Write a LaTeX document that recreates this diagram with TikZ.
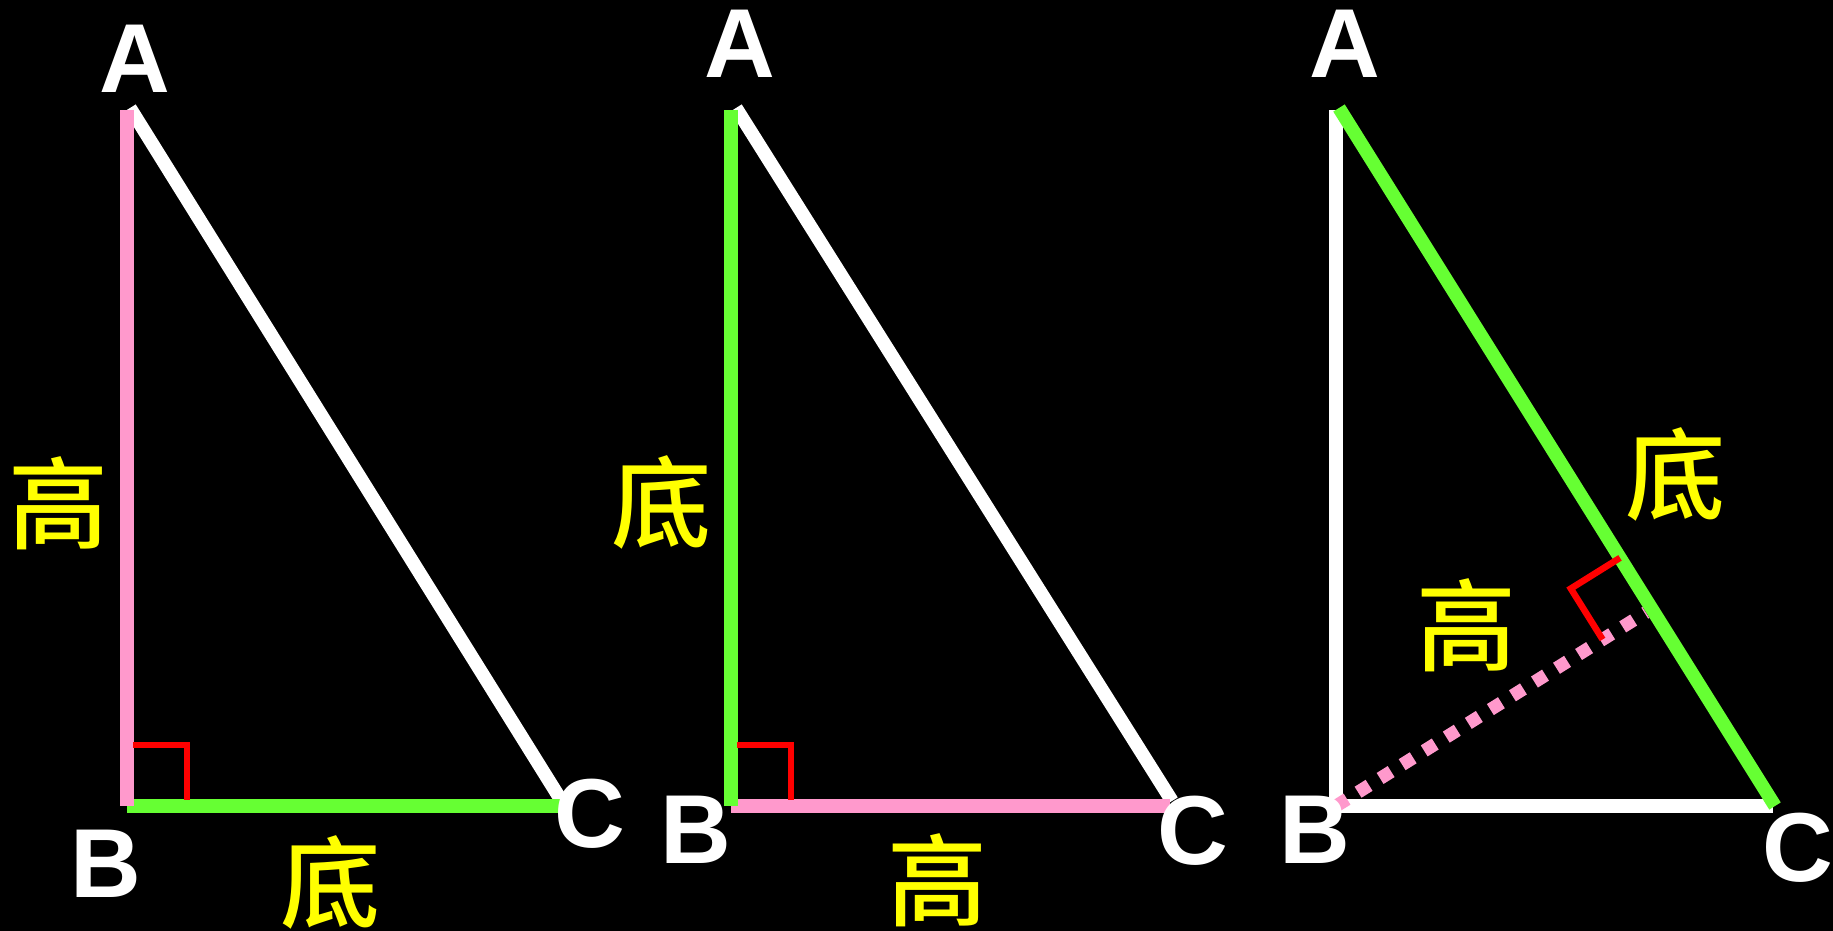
\documentclass[tikz,border=0pt]{standalone}
\usepackage{fontspec}
\setmainfont{Liberation Sans}
\newfontfamily\cjk{Noto Sans CJK SC}[UprightFont={* Medium}]
\usetikzlibrary{calc}
\definecolor{pk}{HTML}{FF99CC}
\definecolor{gr}{HTML}{66FF33}
\definecolor{rd}{HTML}{FF0000}
\definecolor{yl}{HTML}{FFFF00}
\tikzset{
  side/.style={line width=13.5pt},
  rmark/.style={draw=rd, line width=6.5pt},
  vlab/.style={text=white, inner sep=0pt, font=\fontsize{98}{98}\selectfont\bfseries},
  clab/.style={text=yl, inner sep=0pt, font=\fontsize{100}{100}\selectfont\cjk},
  dotline/.style={draw=pk, line width=13pt, dash pattern=on 13pt off 13pt}
}
\begin{document}
\begin{tikzpicture}[x=1pt,y=-1pt]
\fill[black] (0,0) rectangle (1833,931);
\useasboundingbox (0,0) rectangle (1833,931);
% ---------- triangle 1
\coordinate (A1) at (127,110);
\coordinate (B1) at (127,806);
\coordinate (C1) at (561,806);
\coordinate (H1) at (130,108);
\coordinate (K1) at (561,800);
\draw[side, white] (H1) -- (K1);
\draw[side, gr] (B1) -- (C1);
\draw[side, pk] (A1) -- (B1);
\coordinate (R1a) at (133,745);
\coordinate (R1b) at (187,745);
\coordinate (R1c) at (187,800);
\draw[rmark] (R1a) -- (R1b) -- (R1c);
\node[vlab] (lA1) at (135,59) {A};
\node[vlab] (lB1) at (106,864) {B};
\node[vlab] (lC1) at (590,814) {C};
\node[clab] (h1) at (59,503) {高};
\node[clab] (d1) at (330,882) {底};
% ---------- triangle 2
\coordinate (A2) at (731,110);
\coordinate (B2) at (731,806);
\coordinate (C2) at (1170,806);
\coordinate (H2) at (736,108);
\coordinate (K2) at (1172,801);
\draw[side, white] (H2) -- (K2);
\draw[side, pk] (B2) -- (C2);
\draw[side, gr] (A2) -- (B2);
\coordinate (R2a) at (737,745);
\coordinate (R2b) at (791,745);
\coordinate (R2c) at (791,800);
\draw[rmark] (R2a) -- (R2b) -- (R2c);
\node[vlab] (lA2) at (740,44) {A};
\node[vlab] (lB2) at (696,830) {B};
\node[vlab] (lC2) at (1193,831) {C};
\node[clab] (d2) at (661,502) {底};
\node[clab] (h2) at (937,880) {高};
% ---------- triangle 3
\coordinate (A3) at (1336,110);
\coordinate (B3) at (1336,806);
\coordinate (C3) at (1773,806);
\coordinate (H3) at (1339,108);
\coordinate (K3) at (1775,806);
\draw[side, white] (A3) -- (B3) -- (C3);
\draw[side, gr] (H3) -- (K3);
\coordinate (D3) at ($(H3)!(B3)!(K3)$);
\coordinate (E3) at ($(D3)!7pt!(B3)$);
\draw[dotline] (B3) -- (E3);
\coordinate (P1) at ($(D3)!58pt!(B3)$);
\coordinate (P2) at ($(D3)!60pt!(H3)$);
\coordinate (P3) at ($(P1)+(P2)-(D3)$);
\draw[rmark] (P2) -- (P3) -- (P1);
\node[vlab] (lA3) at (1345,44) {A};
\node[vlab] (lB3) at (1315,830) {B};
\node[vlab] (lC3) at (1798,848) {C};
\node[clab] (d3) at (1675,474) {底};
\node[clab] (h3) at (1466,625) {高};
\end{tikzpicture}
\end{document}
